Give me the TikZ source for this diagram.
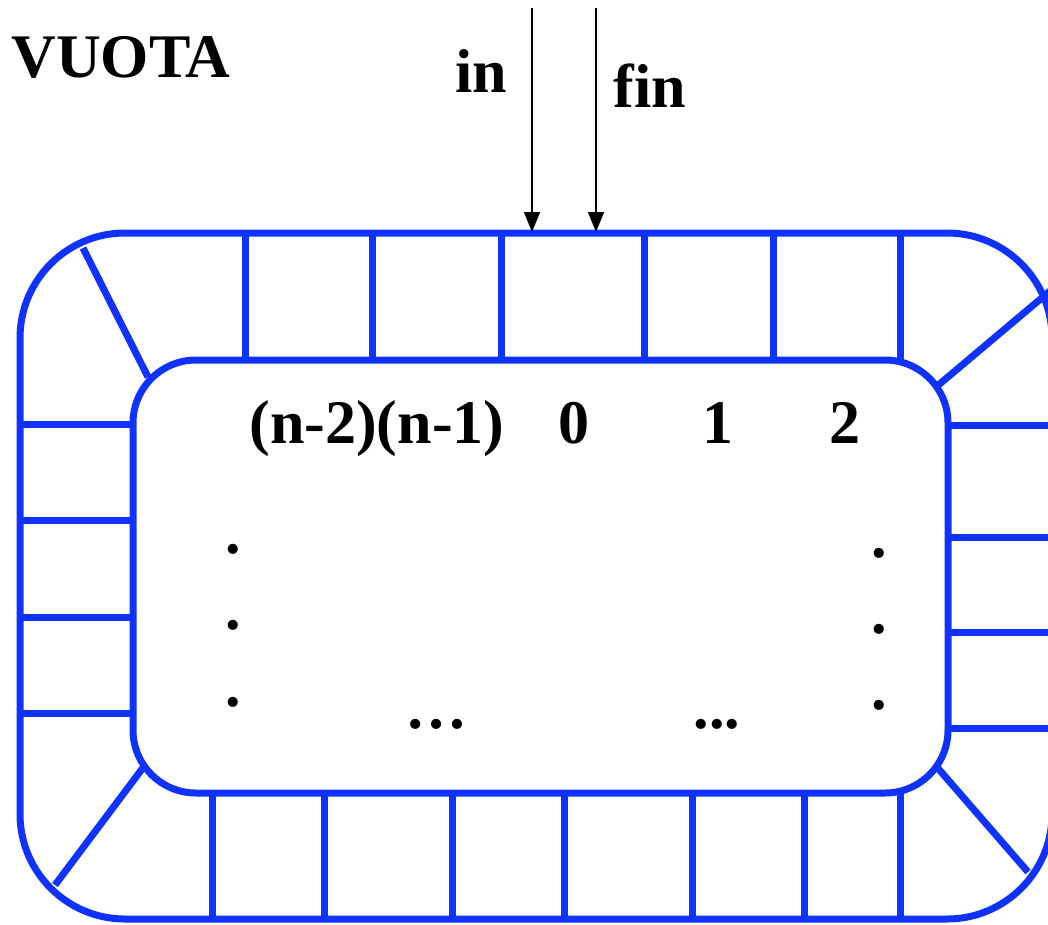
\documentclass[tikz,border=0pt]{standalone}
\usepackage{fontspec}
\setmainfont{Liberation Serif}
\usepackage{xcolor}
\usepackage{tikz}
\usetikzlibrary{positioning,arrows.meta}
\definecolor{ringblue}{RGB}{16,50,255}

\begin{document}
\begin{tikzpicture}[x=1pt, y=-1pt,
  wall/.style={ringblue, line width=7pt},
  ptr/.style={black, line width=1.6pt, -{Triangle[length=20pt, width=16pt]}},
  lbl/.style={inner sep=0pt, anchor=base, font=\fontsize{62}{70}\selectfont\bfseries}]

\useasboundingbox (0,0) rectangle (1048,924);

% Outer and inner rounded borders of the ring
\draw[wall, rounded corners=105] (20,233) rectangle (1052,919);
\draw[wall, rounded corners=63] (133,360) rectangle (948,793);

% Top cells
\foreach \cx in {245, 372, 501, 644, 773, 900}
  \draw[wall] (\cx,233) -- (\cx,361);

% Bottom cells
\foreach \cx in {212, 324, 452, 564, 692, 804, 900}
  \draw[wall] (\cx,792) -- (\cx,919);

% Left cells
\foreach \cy in {424, 520, 617, 713}
  \draw[wall] (20,\cy) -- (133,\cy);

% Right cells
\foreach \cy in {425, 537, 632, 728}
  \draw[wall] (948,\cy) -- (1052,\cy);

% Corner cells
\draw[wall] (83,248) -- (148,377);
\draw[wall] (936,387) -- (1050,291);
\draw[wall] (55,885) -- (145,765);
\draw[wall] (936,766) -- (1028,872);

% Pointers in and fin
\coordinate (in start) at (532,8);
\coordinate (in end) at (532,232);
\coordinate (fin start) at (596,8);
\coordinate (fin end) at (596,232);
\draw[ptr] (in start) -- (in end);
\draw[ptr] (fin start) -- (fin end);

% Labels
\node[lbl] (vuota) at (121,77) {VUOTA};
\node[lbl] (in) at (481,92) {in};
\node[lbl] (fin) at (650,107) {fin};

% Cell indices
\node[lbl] (idx n2n1) at (377,443) {(n-2)(n-1)};
\node[lbl] (idx 0) at (574,443) {0};
\node[lbl] (idx 1) at (718,443) {1};
\node[lbl] (idx 2) at (845,443) {2};

% Dots for the missing cells
\node[lbl] (left dot a) at (233,553) {.};
\node[lbl] (left dot b) at (233,629) {.};
\node[lbl] (left dot c) at (233,706) {.};
\node[lbl] (right dot a) at (879,557) {.};
\node[lbl] (right dot b) at (879,633) {.};
\node[lbl] (right dot c) at (879,709) {.};
\node[lbl] (bottom dots a) at (436,728) {…};
\node[lbl] (bottom dots b) at (717,728) {...};

\end{tikzpicture}
\end{document}
